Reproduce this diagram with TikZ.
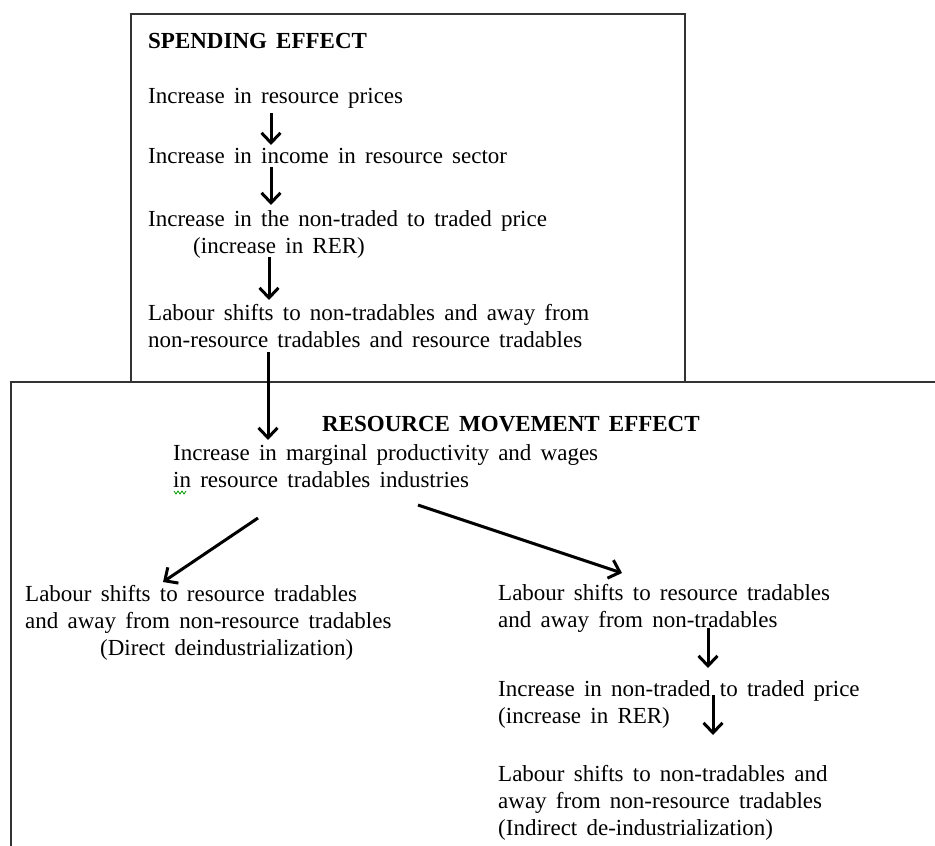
\documentclass[tikz,border=0pt]{standalone}
\usepackage{fontspec}
\setmainfont{Liberation Serif}[WordSpace=1.6]
\usetikzlibrary{arrows.meta}
\begin{document}
\begin{tikzpicture}[x=1pt,y=-1pt,
  txt/.style={anchor=base west, inner sep=0pt, align=left, font=\fontsize{23}{27}\selectfont},
  hdr/.style={txt, font=\fontsize{23}{27}\selectfont\bfseries},
  boxline/.style={draw=black!80, line width=2pt},
  arr/.style={-{Straight Barb[length=10pt,width=19pt]}, line width=3pt, black},
]
\clip (0,0) rectangle (935,846);
\fill[white] (0,0) rectangle (935,846);

% boxes
\draw[boxline] (131,14) rectangle (685,382);
\draw[boxline] (11,900) -- (11,382) -- (960,382);

% spending effect (base = baseline of last line)
\node[hdr] (se) at (148,48) {SPENDING EFFECT};
\node[txt] (s1) at (148,103) {Increase in resource prices};
\node[txt] (s2) at (148,163) {Increase in income in resource sector};
\node[txt] (s3) at (148,253) {Increase in the non-traded to traded price\\\hspace*{45pt}(increase in RER)};
\node[txt] (s4) at (148,347) {Labour shifts to non-tradables  and away from\\non-resource tradables  and resource tradables};

% resource movement effect
\node[hdr] (rm) at (322,431) {RESOURCE MOVEMENT  EFFECT};
\node[txt] (m1) at (173,487) {Increase in marginal productivity and wages\\in resource tradables industries};
\node[txt] (l1) at (25,655) {Labour shifts to resource tradables\\and away from non-resource tradables\\\hspace*{75pt}(Direct deindustrialization)};
\node[txt] (r1) at (498,627) {Labour shifts to resource tradables\\and away from non-tradables};
\node[txt] (r2) at (498,723) {Increase in non-traded to traded price\\(increase in RER)};
\node[txt] (r3) at (498,835) {Labour shifts to non-tradables  and\\away from non-resource  tradables\\(Indirect de-industrialization)};

% arrows
\draw[arr] ([shift={(123,10)}]s1.base west) -- ([shift={(123,-18)}]s2.base west);
\draw[arr] ([shift={(123,4)}]s2.base west) -- ([shift={(123,-48)}]s3.base west);
\draw[arr] ([shift={(121,4)}]s3.base west) -- ([shift={(121,-47)}]s4.base west);
\draw[arr] ([shift={(120,5)}]s4.base west) -- ([shift={(95,-47)}]m1.base west);
\draw[arr] ([shift={(85,31)}]m1.base west) -- ([shift={(138,-73)}]l1.base west);
\draw[arr] ([shift={(245,18)}]m1.base west) -- ([shift={(124,-54)}]r1.base west);
\draw[arr] ([shift={(210,1)}]r1.base west) -- ([shift={(210,-55)}]r2.base west);
\draw[arr] ([shift={(215,-28)}]r2.base west) -- ([shift={(215,-100)}]r3.base west);

% grammar squiggle
\draw[green!60!black, line width=0.8pt] (174,491) -- (176,494) -- (178,491) -- (180,494) -- (182,491) -- (184,494) -- (186,491);
\end{tikzpicture}
\end{document}
